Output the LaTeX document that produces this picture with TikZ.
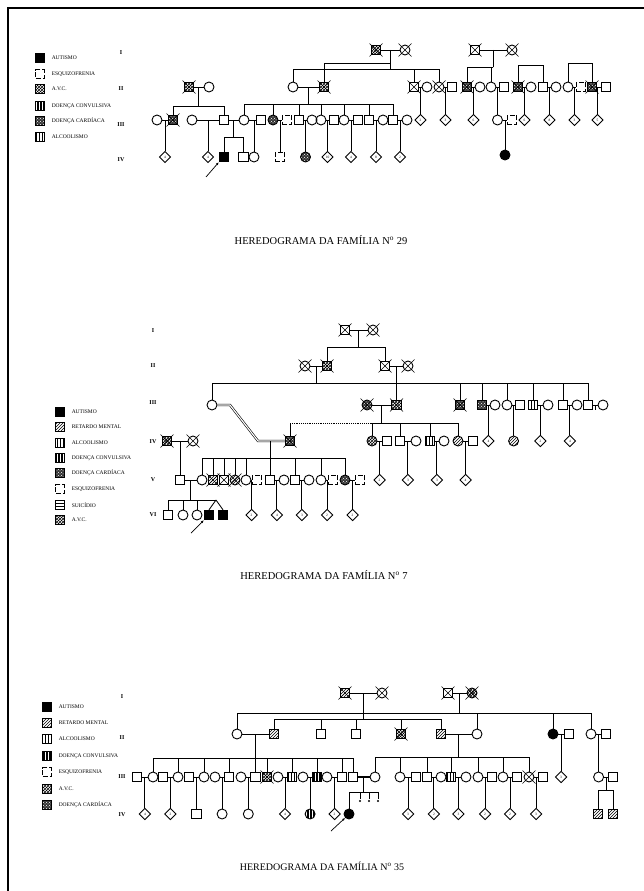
\documentclass[tikz,border=0pt]{standalone}
\usepackage{fontspec}
\setmainfont{Liberation Serif}
\usetikzlibrary{shapes.geometric, arrows.meta, calc, patterns}

\tikzset{
  sym/.style  ={draw, line width=.9pt, inner sep=0pt, minimum size=9.5pt},
  male/.style ={sym, rectangle},
  fem/.style  ={sym, circle, minimum size=10pt},
  unk/.style  ={sym, diamond, minimum size=11.5pt, font=\fontsize{3.5}{4}\selectfont},
  abo/.style  ={circle, fill, inner sep=0pt, minimum size=2.2pt},
  key/.style  ={draw, line width=.7pt, inner sep=0pt, minimum size=8.5pt},
  leg/.style  ={anchor=west, font=\fontsize{5.5}{6}\selectfont},
  gen/.style  ={font=\bfseries\fontsize{6}{6}\selectfont},
  ttl/.style  ={font=\fontsize{10.5}{12}\selectfont},
  aut/.style  ={fill=black},
  ret/.style  ={pattern=north east lines},
  alc/.style  ={pattern=vertical lines},
  conv/.style ={preaction={fill=black}, pattern=vertical lines, pattern color=white},
  card/.style ={preaction={fill=black!80}, pattern=crosshatch dots, pattern color=white},
  avc/.style  ={pattern=crosshatch},
  esq/.style  ={dash pattern=on 5pt off 2pt},
  sui/.style  ={pattern=horizontal lines},
  dead/.style ={append after command={
      ([shift={(-6.5,-6.5)}]\tikzlastnode.center) edge[line width=.6pt] ([shift={(6.5,6.5)}]\tikzlastnode.center)
      ([shift={(-6.5,6.5)}]\tikzlastnode.center) edge[line width=.6pt] ([shift={(6.5,-6.5)}]\tikzlastnode.center)}},
  proband/.style={-{Latex[length=3pt,width=2.5pt]}, line width=.7pt}
}

% mating line and the point where the descent starts
\newcommand\couple[3]{\draw (#1.east) -- (#2.west);
  \coordinate (#3) at ($(#1.east)!.5!(#2.west)$);}
\newcommand\kid[2]{\draw (#2.north) -- (#2.north |- #1);}
\newcommand\sibs[3]{\draw (#1) -- (#1 |- 0,#2);
  \foreach \s in {#3} \draw (#1 |- 0,#2) -| (\s.north);}

\begin{document}
\begin{tikzpicture}[x=1pt, y=-1pt, line width=.85pt]
  \useasboundingbox (0,0) rectangle (644,891);
  \draw[line width=2pt] (8,891) -- (8,8) -- (644,8);

  % ---------------- familia 29
  \node[key, aut]  (aK1) at (40,58)  {}; \node[leg] (aK1t) at (48,58)  {AUTISMO};
  \node[key, esq]  (aK2) at (40,74)  {}; \node[leg] (aK2t) at (48,74)  {ESQUIZOFRENIA};
  \node[key, avc]  (aK3) at (40,89)  {}; \node[leg] (aK3t) at (48,89)  {A.V.C.};
  \node[key, conv] (aK4) at (40,106) {}; \node[leg] (aK4t) at (48,106) {DOENÇA CONVULSIVA};
  \node[key, card] (aK5) at (40,121) {}; \node[leg] (aK5t) at (48,121) {DOENÇA CARDÍACA};
  \node[key, alc]  (aK6) at (40,137) {}; \node[leg] (aK6t) at (48,137) {ALCOOLISMO};

  \node[gen] (aG1) at (121,53)  {I};
  \node[gen] (aG2) at (121,89)  {II};
  \node[gen] (aG3) at (121,125) {III};
  \node[gen] (aG4) at (121,160) {IV};

  \node[male, avc, dead]  (aI1) at (376,50) {};
  \node[fem, dead]        (aI2) at (405,50) {};
  \node[male, dead]       (aI3) at (475,50) {};
  \node[fem, dead]        (aI4) at (512,50) {};

  \node[male, avc, dead]  (aII1)  at (189,87) {};
  \node[fem]              (aII2)  at (209,87) {};
  \node[fem]              (aII3)  at (293,87) {};
  \node[male, avc, dead]  (aII4)  at (324,87) {};
  \node[male, dead]       (aII5)  at (414,87) {};
  \node[fem]              (aII6)  at (427,87) {};
  \node[fem, dead]        (aII7)  at (439,87) {};
  \node[male]             (aII8)  at (452,87) {};
  \node[male, card, dead] (aII9)  at (467,87) {};
  \node[fem]              (aII10) at (480,87) {};
  \node[fem]              (aII11) at (491,87) {};
  \node[male]             (aII12) at (504,87) {};
  \node[male, card, dead] (aII13) at (518,87) {};
  \node[fem]              (aII14) at (531,87) {};
  \node[male]             (aII15) at (543,87) {};
  \node[fem]              (aII16) at (556,87) {};
  \node[fem]              (aII17) at (568,87) {};
  \node[male, esq]        (aII18) at (581,87) {};
  \node[male, card, dead] (aII19) at (592,87) {};
  \node[male]             (aII20) at (606,87) {};

  \node[fem]              (aIII1)  at (157,120) {};
  \node[male, card, dead] (aIII2)  at (173,120) {};
  \node[fem]              (aIII3)  at (192,120) {};
  \node[male]             (aIII4)  at (224,120) {};
  \node[fem]              (aIII5)  at (244,120) {};
  \node[male]             (aIII6)  at (261,120) {};
  \node[fem, card]        (aIII7)  at (273,120) {};
  \node[male, esq]        (aIII8)  at (287,120) {};
  \node[male]             (aIII9)  at (299,120) {};
  \node[fem]              (aIII10) at (312,120) {};
  \node[fem]              (aIII11) at (321,120) {};
  \node[male]             (aIII12) at (334,120) {};
  \node[fem]              (aIII13) at (344,120) {};
  \node[male]             (aIII14) at (358,120) {};
  \node[male]             (aIII15) at (369,120) {};
  \node[fem]              (aIII16) at (383,120) {};
  \node[male]             (aIII17) at (393,120) {};
  \node[fem]              (aIII18) at (407,120) {};
  \node[unk]              (aIII19) at (420.5,120) {2};
  \node[unk]              (aIII20) at (445.5,120) {3};
  \node[unk]              (aIII21) at (473.5,120) {6};
  \node[fem]              (aIII22) at (497.5,120) {};
  \node[male, esq]        (aIII23) at (512,120) {};
  \node[unk]              (aIII24) at (524.5,120) {6};
  \node[unk]              (aIII25) at (549.5,120) {8};
  \node[unk]              (aIII26) at (574.5,120) {3};
  \node[unk]              (aIII27) at (597.5,120) {5};

  \node[unk]              (aIV1)  at (165,157) {4};
  \node[unk]              (aIV2)  at (208,157) {4};
  \node[male, aut]        (aIV3)  at (224,157) {};
  \node[male]             (aIV4)  at (243.5,157) {};
  \node[fem]              (aIV5)  at (254,157) {};
  \node[male, esq]        (aIV6)  at (280,157) {};
  \node[fem, card]        (aIV7)  at (305.5,157) {};
  \node[unk]              (aIV8)  at (327.5,157) {10};
  \node[unk]              (aIV9)  at (351,157) {4};
  \node[unk]              (aIV10) at (376,157) {8};
  \node[unk]              (aIV11) at (400,157) {2};
  \node[fem, aut]         (aIV12) at (505,155) {};

  \couple{aI1}{aI2}{aP1}
  \couple{aI3}{aI4}{aP2}
  \sibs{aP1}{69}{aII3,aII5,aII7}
  \draw (aII4.north) |- (aP1 |- 0,63);
  \sibs{aP2}{67}{aII9,aII11}
  \coordinate (aS1) at (530,65); \sibs{aS1}{65}{aII13,aII15}
  \coordinate (aS2) at (580,63); \sibs{aS2}{63}{aII17,aII19}

  \couple{aII1}{aII2}{aP3}
  \couple{aII3}{aII4}{aP4}
  \couple{aII5}{aII6}{aP5}
  \couple{aII7}{aII8}{aP6}
  \couple{aII9}{aII10}{aP7}
  \couple{aII11}{aII12}{aP8}
  \couple{aII13}{aII14}{aP9}
  \couple{aII15}{aII16}{aP10}
  \couple{aII17}{aII18}{aP11}
  \couple{aII19}{aII20}{aP12}
  \sibs{aP3}{106}{aIII2,aIII4}
  \sibs{aP4}{104}{aIII5,aIII7,aIII9,aIII11,aIII13,aIII15,aIII17}
  \kid{aP5}{aIII19} \kid{aP6}{aIII20} \kid{aP7}{aIII21} \kid{aP8}{aIII22}
  \kid{aP9}{aIII24} \kid{aP10}{aIII25} \kid{aP11}{aIII26} \kid{aP12}{aIII27}

  \couple{aIII1}{aIII2}{aQ1}
  \couple{aIII3}{aIII4}{aQ2}
  \couple{aIII4}{aIII5}{aQ3}
  \couple{aIII5}{aIII6}{aQ4}
  \couple{aIII7}{aIII8}{aQ5}
  \couple{aIII9}{aIII10}{aQ6}
  \couple{aIII11}{aIII12}{aQ7}
  \couple{aIII13}{aIII14}{aQ8}
  \couple{aIII15}{aIII16}{aQ9}
  \couple{aIII17}{aIII18}{aQ10}
  \couple{aIII22}{aIII23}{aQ11}
  \kid{aQ1}{aIV1} \kid{aQ2}{aIV2}
  \sibs{aQ3}{137}{aIV3,aIV4}
  \kid{aQ4}{aIV5} \kid{aQ5}{aIV6} \kid{aQ6}{aIV7} \kid{aQ7}{aIV8}
  \kid{aQ8}{aIV9} \kid{aQ9}{aIV10} \kid{aQ10}{aIV11} \kid{aQ11}{aIV12}
  \coordinate (aAr) at (206,177);
  \draw[proband] (aAr) -- (aIV3.south west);

  \node[ttl] (aTitle) at (321,240) {HEREDOGRAMA DA FAMÍLIA N\textsuperscript{o} 29};

  % ---------------- familia 7
  \node[key, aut]  (bK1) at (60,412) {}; \node[leg] (bK1t) at (68,412) {AUTISMO};
  \node[key, ret]  (bK2) at (60,427) {}; \node[leg] (bK2t) at (68,427) {RETARDO MENTAL};
  \node[key, alc]  (bK3) at (60,443) {}; \node[leg] (bK3t) at (68,443) {ALCOOLISMO};
  \node[key, conv] (bK4) at (60,458) {}; \node[leg] (bK4t) at (68,458) {DOENÇA CONVULSIVA};
  \node[key, card] (bK5) at (60,473) {}; \node[leg] (bK5t) at (68,473) {DOENÇA CARDÍACA};
  \node[key, esq]  (bK6) at (60,489) {}; \node[leg] (bK6t) at (68,489) {ESQUIZOFRENIA};
  \node[key, sui]  (bK7) at (60,505) {}; \node[leg] (bK7t) at (68,505) {SUICÍDIO};
  \node[key, avc]  (bK8) at (60,520) {}; \node[leg] (bK8t) at (68,520) {A.V.C.};

  \node[gen] (bG1) at (153,331) {I};
  \node[gen] (bG2) at (153,366) {II};
  \node[gen] (bG3) at (153,403) {III};
  \node[gen] (bG4) at (153,442) {IV};
  \node[gen] (bG5) at (153,480) {V};
  \node[gen] (bG6) at (153,515) {VI};

  \node[male, dead]       (bI1) at (345,330) {};
  \node[fem, dead]        (bI2) at (373,330) {};

  \node[fem, dead]        (bII1) at (305,366) {};
  \node[male, avc, dead]  (bII2) at (327,366) {};
  \node[male, dead]       (bII3) at (385,366) {};
  \node[fem, dead]        (bII4) at (408,366) {};

  \node[fem]              (bIII1)  at (212,405) {};
  \node[fem, card, dead]  (bIII2)  at (367,405) {};
  \node[male, avc, dead]  (bIII3)  at (396.5,405) {};
  \node[male, card, dead] (bIII4)  at (460,405) {};
  \node[male, card]       (bIII5)  at (482,405) {};
  \node[fem]              (bIII6)  at (495,405) {};
  \node[fem]              (bIII7)  at (507,405) {};
  \node[male]             (bIII8)  at (520,405) {};
  \node[male, alc]        (bIII9)  at (533,405) {};
  \node[fem]              (bIII10) at (548,405) {};
  \node[male]             (bIII11) at (563,405) {};
  \node[fem]              (bIII12) at (577,405) {};
  \node[male]             (bIII13) at (588,405) {};
  \node[fem]              (bIII14) at (603,405) {};

  \node[male, avc, dead]  (bIV1)  at (167,441) {};
  \node[fem, dead]        (bIV2)  at (193,441) {};
  \node[male, card, dead] (bIV3)  at (290,441) {};
  \node[fem, avc]         (bIV4)  at (372,441) {};
  \node[male]             (bIV5)  at (387,441) {};
  \node[male]             (bIV6)  at (400,441) {};
  \node[fem]              (bIV7)  at (416,441) {};
  \node[male, alc]        (bIV8)  at (430,441) {};
  \node[fem]              (bIV9)  at (444,441) {};
  \node[fem, ret]         (bIV10) at (458,441) {};
  \node[male]             (bIV11) at (473,441) {};
  \node[unk]              (bIV12) at (488.4,441) {4};
  \node[fem, ret]         (bIV13) at (513.6,441) {};
  \node[unk]              (bIV14) at (540.4,441) {2};
  \node[unk]              (bIV15) at (569.9,441) {4};

  \node[male]             (bV1)  at (180,480) {};
  \node[fem]              (bV2)  at (202,480) {};
  \node[male, ret, dead]  (bV3)  at (213,480) {};
  \node[male, dead]       (bV4)  at (224,480) {};
  \node[fem, ret, dead]   (bV5)  at (235,480) {};
  \node[fem]              (bV6)  at (246,480) {};
  \node[male, esq]        (bV7)  at (257,480) {};
  \node[male]             (bV8)  at (270,480) {};
  \node[fem]              (bV9)  at (284,480) {};
  \node[male]             (bV10) at (295,480) {};
  \node[fem]              (bV11) at (309,480) {};
  \node[fem]              (bV12) at (321,480) {};
  \node[male, esq]        (bV13) at (333,480) {};
  \node[fem, card]        (bV14) at (345,480) {};
  \node[male, esq]        (bV15) at (360,480) {};
  \node[unk]              (bV16) at (379.6,480) {2};
  \node[unk]              (bV17) at (407.9,480) {3};
  \node[unk]              (bV18) at (436.9,480) {3};
  \node[unk]              (bV19) at (465.6,480) {4};

  \node[male]             (bVI1)  at (168,515) {};
  \node[fem]              (bVI2)  at (183,515) {};
  \node[fem]              (bVI3)  at (197,515) {};
  \node[male, aut]        (bVI4)  at (209,515) {};
  \node[male, aut]        (bVI5)  at (223,515) {};
  \node[unk]              (bVI6)  at (251.6,515) {2};
  \node[unk]              (bVI7)  at (276.9,515) {4};
  \node[unk]              (bVI8)  at (301.9,515) {3};
  \node[unk]              (bVI9)  at (327.1,515) {2};
  \node[unk]              (bVI10) at (352.6,515) {2};

  \couple{bI1}{bI2}{bP1}
  \sibs{bP1}{347}{bII2,bII3}
  \couple{bII1}{bII2}{bP2}
  \couple{bII3}{bII4}{bP3}
  \sibs{bP2}{383}{bIII1,bIII4,bIII5,bIII7,bIII9,bIII11,bIII13}
  \kid{bP3}{bIII3}

  \couple{bIII2}{bIII3}{bQ1}
  \couple{bIII5}{bIII6}{bQ2}
  \couple{bIII7}{bIII8}{bQ3}
  \couple{bIII9}{bIII10}{bQ4}
  \couple{bIII11}{bIII12}{bQ5}
  \couple{bIII13}{bIII14}{bQ6}
  \coordinate (bQ6e) at ($(bQ6)+(0,5)$);
  \draw (bQ6) -- (bQ6e);
  \sibs{bQ1}{423}{bIV4,bIV6,bIV8,bIV10}
  \coordinate (bD1) at (290,423);
  \draw (bIV3.north) -- (bD1);
  \draw[densely dotted] (bD1) -- (bIV4.north |- bD1);
  \kid{bQ2}{bIV12} \kid{bQ3}{bIV13} \kid{bQ4}{bIV14} \kid{bQ5}{bIV15}

  % casamento consanguineo
  \coordinate (bC1) at (230,405);
  \coordinate (bC2) at (258,441);
  \coordinate (bQ7) at (270,441);
  \draw[double, double distance=1.1pt, line width=.6pt] (bIII1.east) -- (bC1) -- (bC2) -- (bIV3.west);
  \sibs{bQ7}{458}{bV2,bV3,bV4,bV5,bV6,bV8,bV10,bV12,bV14}

  \couple{bIV1}{bIV2}{bR1}
  \couple{bIV4}{bIV5}{bR2}
  \couple{bIV6}{bIV7}{bR3}
  \couple{bIV8}{bIV9}{bR4}
  \couple{bIV10}{bIV11}{bR5}
  \kid{bR1}{bV1} \kid{bR2}{bV16} \kid{bR3}{bV17} \kid{bR4}{bV18} \kid{bR5}{bV19}

  \couple{bV1}{bV2}{bS1}
  \couple{bV6}{bV7}{bS2}
  \couple{bV8}{bV9}{bS3}
  \couple{bV10}{bV11}{bS4}
  \couple{bV12}{bV13}{bS5}
  \couple{bV14}{bV15}{bS6}
  \sibs{bS1}{500}{bVI1,bVI2,bVI3}
  \coordinate (bTw) at (216,500);
  \draw (bS1 |- bTw) -- (bTw);
  \draw (bTw) -- (bVI4.north);
  \draw (bTw) -- (bVI5.north);
  \kid{bS2}{bVI6} \kid{bS3}{bVI7} \kid{bS4}{bVI8} \kid{bS5}{bVI9} \kid{bS6}{bVI10}
  \coordinate (bAr) at (191,533);
  \draw[proband] (bAr) -- (bVI4.south west);

  \node[ttl] (bTitle) at (324,575) {HEREDOGRAMA DA FAMÍLIA N\textsuperscript{o} 7};

  % ---------------- familia 35
  \node[key, aut]  (cK1) at (47,707) {}; \node[leg] (cK1t) at (55,707) {AUTISMO};
  \node[key, ret]  (cK2) at (47,723) {}; \node[leg] (cK2t) at (55,723) {RETARDO MENTAL};
  \node[key, alc]  (cK3) at (47,739) {}; \node[leg] (cK3t) at (55,739) {ALCOOLISMO};
  \node[key, conv] (cK4) at (47,756) {}; \node[leg] (cK4t) at (55,756) {DOENÇA CONVULSIVA};
  \node[key, esq]  (cK5) at (47,772) {}; \node[leg] (cK5t) at (55,772) {ESQUIZOFRENIA};
  \node[key, avc]  (cK6) at (47,789) {}; \node[leg] (cK6t) at (55,789) {A.V.C.};
  \node[key, card] (cK7) at (47,805) {}; \node[leg] (cK7t) at (55,805) {DOENÇA CARDÍACA};

  \node[gen] (cG1) at (122,697) {I};
  \node[gen] (cG2) at (122,738) {II};
  \node[gen] (cG3) at (122,777) {III};
  \node[gen] (cG4) at (122,815) {IV};

  \node[male, ret, dead]  (cI1) at (345,693) {};
  \node[fem, dead]        (cI2) at (382,693) {};
  \node[male, dead]       (cI3) at (448,693) {};
  \node[fem, avc, dead]   (cI4) at (472,693) {};

  \node[fem]              (cII1)  at (237,734) {};
  \node[male, ret]        (cII2)  at (274,734) {};
  \node[male]             (cII3)  at (321,734) {};
  \node[male]             (cII4)  at (356,734) {};
  \node[male, avc, dead]  (cII5)  at (401,734) {};
  \node[male, ret]        (cII6)  at (441,734) {};
  \node[fem]              (cII7)  at (477,734) {};
  \node[fem, aut]         (cII8)  at (553,734) {};
  \node[male]             (cII9)  at (569,734) {};
  \node[fem]              (cII10) at (591,734) {};
  \node[male]             (cII11) at (606,734) {};

  \node[male]             (cIII1)  at (137,777) {};
  \node[fem]              (cIII2)  at (153,777) {};
  \node[male]             (cIII3)  at (163,777) {};
  \node[fem]              (cIII4)  at (178,777) {};
  \node[male]             (cIII5)  at (189,777) {};
  \node[fem]              (cIII6)  at (204,777) {};
  \node[fem]              (cIII7)  at (215,777) {};
  \node[male]             (cIII8)  at (229,777) {};
  \node[fem]              (cIII9)  at (241,777) {};
  \node[male]             (cIII10) at (255.5,777) {};
  \node[male, avc, dead]  (cIII11) at (267,777) {};
  \node[fem]              (cIII12) at (278,777) {};
  \node[male, alc]        (cIII13) at (292,777) {};
  \node[fem]              (cIII14) at (303,777) {};
  \node[male, conv]       (cIII15) at (317,777) {};
  \node[fem]              (cIII16) at (327,777) {};
  \node[male]             (cIII17) at (342,777) {};
  \node[male]             (cIII18) at (353,777) {};
  \node[fem]              (cIII19) at (375,777) {};
  \node[fem]              (cIII20) at (400,777) {};
  \node[male]             (cIII21) at (416,777) {};
  \node[male]             (cIII22) at (427,777) {};
  \node[fem]              (cIII23) at (441,777) {};
  \node[male, alc]        (cIII24) at (451,777) {};
  \node[fem]              (cIII25) at (466,777) {};
  \node[fem]              (cIII26) at (478,777) {};
  \node[male]             (cIII27) at (492,777) {};
  \node[fem]              (cIII28) at (503,777) {};
  \node[male]             (cIII29) at (517,777) {};
  \node[fem, dead]        (cIII30) at (529,777) {};
  \node[male]             (cIII31) at (543,777) {};
  \node[unk]              (cIII32) at (561.1,777) {3};
  \node[fem]              (cIII33) at (598.6,777) {};
  \node[male]             (cIII34) at (613,777) {};

  \node[unk]              (cIV1)  at (144.9,814) {4};
  \node[unk]              (cIV2)  at (170.4,814) {2};
  \node[male]             (cIV3)  at (196.4,814) {};
  \node[fem]              (cIV4)  at (222.1,814) {};
  \node[fem]              (cIV5)  at (248.3,814) {};
  \node[unk]              (cIV6)  at (285,814) {4};
  \node[fem, conv]        (cIV7)  at (310.1,814) {};
  \node[unk]              (cIV8)  at (334.6,814) {2};
  \node[fem, aut]         (cIV9)  at (349,814) {};
  \node[abo]              (cIV10) at (360,801) {};
  \node[abo]              (cIV11) at (369,801) {};
  \node[abo]              (cIV12) at (378,801) {};
  \node[unk]              (cIV13) at (408.1,814) {3};
  \node[unk]              (cIV14) at (433.9,814) {2};
  \node[unk]              (cIV15) at (458.4,814) {3};
  \node[unk]              (cIV16) at (485.1,814) {2};
  \node[unk]              (cIV17) at (510.1,814) {2};
  \node[unk]              (cIV18) at (536.1,814) {3};
  \node[male, ret]        (cIV19) at (598,814) {};
  \node[male, ret]        (cIV20) at (613,814) {};

  \couple{cI1}{cI2}{cP1}
  \couple{cI3}{cI4}{cP2}
  \sibs{cP1}{719}{cII2,cII3,cII4,cII5,cII6}
  \sibs{cP2}{713}{cII1,cII7,cII8,cII10}

  \couple{cII1}{cII2}{cQ1}
  \couple{cII6}{cII7}{cQ2}
  \couple{cII8}{cII9}{cQ3}
  \couple{cII10}{cII11}{cQ4}
  \sibs{cQ1}{758}{cIII2,cIII4,cIII6,cIII8,cIII10,cIII11,cIII13,cIII15,cIII17,cIII18}
  \sibs{cQ2}{757}{cIII19,cIII20,cIII22,cIII24,cIII26,cIII28,cIII30}
  \kid{cQ3}{cIII32} \kid{cQ4}{cIII33}

  \couple{cIII1}{cIII2}{cR1}
  \couple{cIII3}{cIII4}{cR2}
  \couple{cIII5}{cIII6}{cR3}
  \couple{cIII7}{cIII8}{cR4}
  \couple{cIII9}{cIII10}{cR5}
  \couple{cIII12}{cIII13}{cR6}
  \couple{cIII14}{cIII15}{cR7}
  \couple{cIII16}{cIII17}{cR8}
  \draw[line width=1.5pt] (cIII18.east) -- (cIII19.west);
  \coordinate (cR9) at ($(cIII18.east)!.5!(cIII19.west)$);
  \couple{cIII20}{cIII21}{cR10}
  \couple{cIII22}{cIII23}{cR11}
  \couple{cIII24}{cIII25}{cR12}
  \couple{cIII26}{cIII27}{cR13}
  \couple{cIII28}{cIII29}{cR14}
  \couple{cIII30}{cIII31}{cR15}
  \couple{cIII33}{cIII34}{cR16}
  \kid{cR1}{cIV1} \kid{cR2}{cIV2} \kid{cR3}{cIV3} \kid{cR4}{cIV4}
  \kid{cR5}{cIV5} \kid{cR6}{cIV6} \kid{cR7}{cIV7} \kid{cR8}{cIV8}
  \sibs{cR9}{792}{cIV9,cIV10,cIV11,cIV12}
  \kid{cR10}{cIV13} \kid{cR11}{cIV14} \kid{cR12}{cIV15}
  \kid{cR13}{cIV16} \kid{cR14}{cIV17} \kid{cR15}{cIV18}
  \sibs{cR16}{790}{cIV19,cIV20}
  \coordinate (cAr) at (331,831);
  \draw[proband] (cAr) -- (cIV9.south west);

  \node[ttl, font=\fontsize{10}{12}\selectfont] (cTitle) at (322,866) {HEREDOGRAMA DA FAMÍLIA N\textsuperscript{o} 35};
\end{tikzpicture}
\end{document}
